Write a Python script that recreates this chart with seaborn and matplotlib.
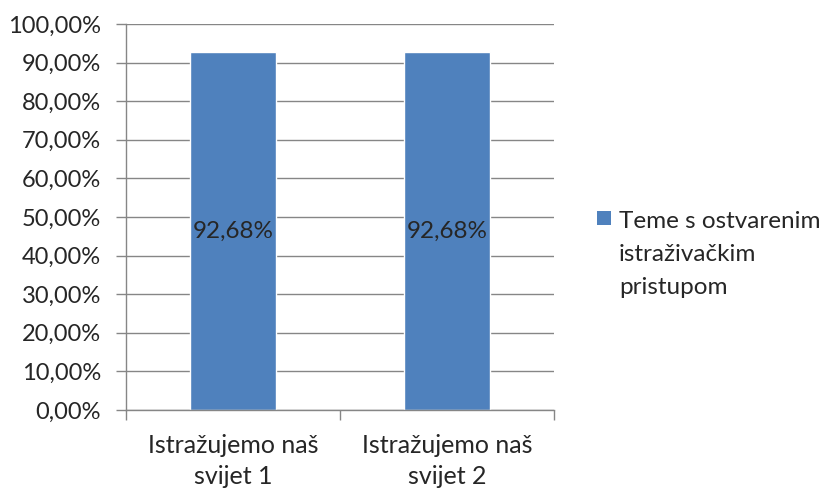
import matplotlib
matplotlib.use("Agg")
import matplotlib.pyplot as plt
import seaborn as sns
import pandas as pd
from matplotlib.patches import Rectangle
from matplotlib.ticker import FuncFormatter, MultipleLocator

categories = ["Istražujemo naš\nsvijet 1", "Istražujemo naš\nsvijet 2"]
values = [92.68, 92.68]
series_name = "Teme s ostvarenim\nistraživačkim\npristupom"

df = pd.DataFrame({"Kategorija": categories, "Vrijednost": values})

sns.set_style("white")
plt.rcParams["font.family"] = ["Lato", "DejaVu Sans"]

bar_color = "#4F81BD"
grid_color = "#868686"
W, H = 824, 488

fig = plt.figure(figsize=(W / 100, H / 100), dpi=100)
ax = fig.add_axes([126 / W, 78 / H, 428 / W, 386 / H])

sns.barplot(data=df, x="Kategorija", y="Vrijednost", color=bar_color,
            width=0.4, saturation=1, ax=ax)

ax.set_ylim(0, 100)
ax.set_xlim(-0.5, 1.5)
ax.yaxis.set_major_locator(MultipleLocator(10))
ax.yaxis.set_major_formatter(FuncFormatter(lambda v, p: f"{v:.2f}%".replace(".", ",")))
ax.grid(axis="y", color=grid_color, linewidth=1)
ax.set_axisbelow(True)
ax.set_xlabel("")
ax.set_ylabel("")

for side in ["top", "right"]:
    ax.spines[side].set_visible(False)
for side in ["left", "bottom"]:
    ax.spines[side].set_color(grid_color)
    ax.spines[side].set_linewidth(1)

ax.tick_params(axis="y", left=True, length=7, color=grid_color, width=1,
               pad=11, labelsize=17)
# x ticks sit on category boundaries, labels on the centres
ax.set_xticks([-0.5, 0.5, 1.5])
ax.set_xticklabels([])
ax.tick_params(axis="x", which="major", bottom=True, length=7,
               color=grid_color, width=1)
ax.set_xticks([0, 1], minor=True)
ax.set_xticklabels(categories, minor=True, linespacing=1.45)
ax.tick_params(axis="x", which="minor", bottom=True, length=0, pad=17,
               labelsize=18)

for c in ax.containers:
    ax.bar_label(c, labels=[f"{v:.2f}%".replace(".", ",") for v in values],
                 label_type="center", fontsize=17.5)

# legend: square marker plus wrapped series name
fig.add_artist(Rectangle((597 / W, 1 - 225 / H), 14 / W, 14 / H,
                         transform=fig.transFigure, facecolor=bar_color,
                         edgecolor="none"))
for i, line in enumerate(series_name.split("\n")):
    fig.text(619 / W, 1 - (228 + 33 * i) / H, line, fontsize=17.5,
             va="baseline", ha="left")

fig.savefig("out.png", dpi=100)
